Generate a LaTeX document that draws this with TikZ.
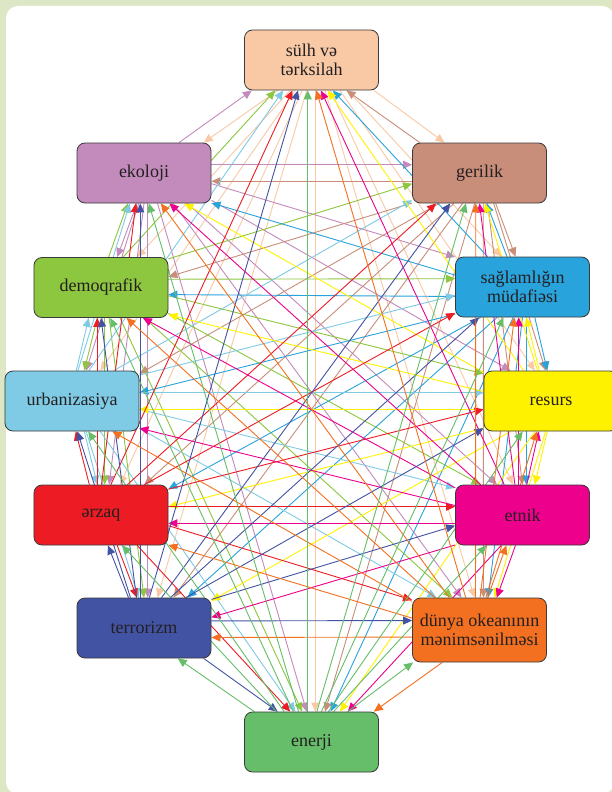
\documentclass[tikz,border=0pt]{standalone}
\usepackage{fontspec}
\setmainfont{Liberation Serif}
\newfontfamily\boxfont{Liberation Serif}
\usetikzlibrary{arrows.meta}
\pgfdeclarelayer{back}
\pgfdeclarelayer{bg}
\pgfsetlayers{back,bg,main}
\definecolor{cframe}{HTML}{DDE7C5}
\definecolor{boxline}{HTML}{3A3A3A}
\definecolor{txt}{HTML}{231F20}
\definecolor{csul}{HTML}{F9C9A6}
\definecolor{ceko}{HTML}{C38BBC}
\definecolor{cger}{HTML}{C98E79}
\definecolor{cdem}{HTML}{8DC63F}
\definecolor{csag}{HTML}{29A3DC}
\definecolor{curb}{HTML}{7FCBE5}
\definecolor{cres}{HTML}{FFF200}
\definecolor{cerz}{HTML}{ED1C24}
\definecolor{cetn}{HTML}{EC008C}
\definecolor{cter}{HTML}{4353A3}
\definecolor{cdun}{HTML}{F37021}
\definecolor{cene}{HTML}{66BE6A}
\newcommand\mynodelist{sul/311.5/60/csul, eko/144/173/ceko, ger/479.5/173/cger, dem/101/287.5/cdem, sag/522.5/287/csag, urb/72/401/curb, res/551/401/cres, erz/101/515/cerz, etn/522.5/515/cetn, ter/144/628/cter, dun/479.5/630/cdun, ene/311.5/742/cene}
\newcommand\angoff{7}
\begin{document}
\begin{tikzpicture}[x=1bp,y=-1bp,
  box/.style={draw=boxline, line width=0.8bp, rounded corners=8bp,
    minimum width=134bp, minimum height=60bp, inner sep=2bp, align=center,
    text=txt, font=\boxfont\fontsize{18bp}{19.5bp}\selectfont},
  conn/.style={line width=0.9bp, -{Triangle[length=9bp,width=8bp]}}]
\useasboundingbox (0,0) rectangle (612,792);
\begin{pgfonlayer}{back}
  \fill[cframe] (0,0) rectangle (612,792);
  \fill[white, rounded corners=12bp] (6,6) rectangle (614,794);
\end{pgfonlayer}
% nodes
\node[box,fill=csul] (sul) at (311.5,60) {sülh və\\tərksilah};
\node[box,fill=ceko] (eko) at (144,173) {ekoloji};
\node[box,fill=cger] (ger) at (479.5,173) {gerilik};
\node[box,fill=cdem] (dem) at (101,287.5) {demoqrafik};
\node[box,fill=csag] (sag) at (522.5,287) {sağlamlığın\\müdafiəsi};
\node[box,fill=curb] (urb) at (72,401) {urbanizasiya};
\node[box,fill=cres] (res) at (551,401) {resurs};
\node[box,fill=cerz] (erz) at (101,515) {ərzaq};
\node[box,fill=cetn] (etn) at (522.5,515) {etnik};
\node[box,fill=cter] (ter) at (144,628) {terrorizm};
\node[box,fill=cdun,minimum height=64bp] (dun) at (479.5,630) {dünya okeanının\\mənimsənilməsi};
\node[box,fill=cene] (ene) at (311.5,742) {enerji};
% connectors: every node to every other node, in the colour of the source
\begin{pgfonlayer}{bg}
\foreach \a/\xa/\ya/\ca [count=\i] in \mynodelist {
  \foreach \b/\xb/\yb/\cb [count=\j] in \mynodelist {
    \ifnum\i=\j\relax\else
      \pgfmathsetmacro\ang{atan2(\ya-\yb,\xb-\xa)}
      \pgfmathsetmacro\sa{\ang+\angoff}
      \pgfmathsetmacro\ta{\ang+180-\angoff}
      \draw[conn,draw=\ca] (\a.\sa) -- (\b.\ta);
    \fi
  }
}
\end{pgfonlayer}
\end{tikzpicture}
\end{document}
